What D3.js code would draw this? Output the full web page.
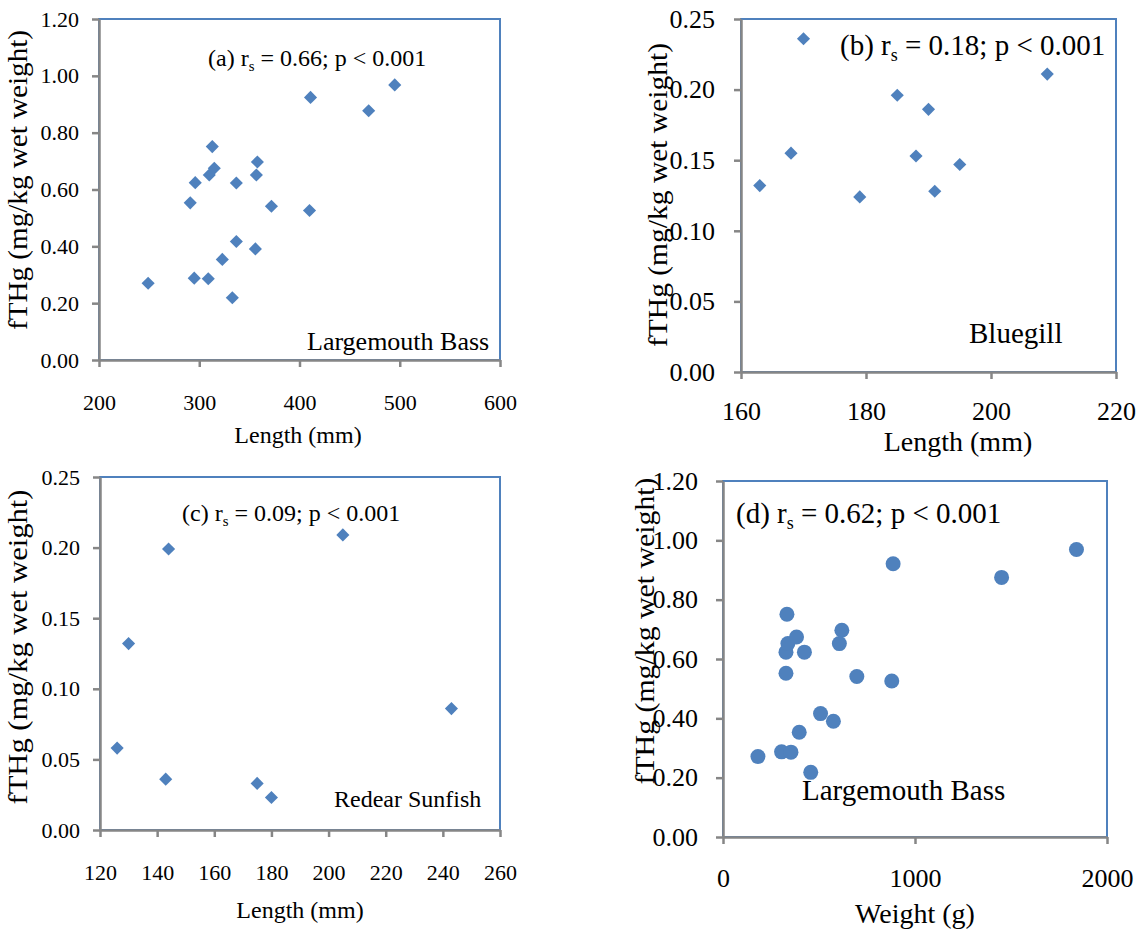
<!DOCTYPE html>
<html>
<head>
<meta charset="utf-8">
<script src="https://cdn.jsdelivr.net/npm/d3@7"></script>
<style>
  body { margin: 0; background: #fff; }
  svg { display: block; }
  text { font-family: "Liberation Serif", "Times New Roman", serif; fill: #000; }
</style>
</head>
<body>
<svg id="drawing_region"></svg>
<script>
// (a) largemouth bass, length vs fTHg
var lengthA = [249, 291, 296, 295, 309, 310, 313, 315, 323, 333, 337, 337, 356, 357, 358, 372, 410, 411, 469, 495];
var thgA = [0.27, 0.553, 0.624, 0.288, 0.286, 0.651, 0.751, 0.675, 0.354, 0.219, 0.623, 0.417, 0.391, 0.651, 0.697, 0.541, 0.526, 0.924, 0.877, 0.968];

// (b) bluegill
var lengthB = [163, 168, 170, 179, 185, 188, 190, 191, 195, 209];
var thgB = [0.132, 0.155, 0.236, 0.124, 0.196, 0.153, 0.186, 0.128, 0.147, 0.211];

// (c) redear sunfish
var lengthC = [126, 130, 143, 144, 175, 180, 205, 243];
var thgC = [0.058, 0.132, 0.036, 0.199, 0.033, 0.023, 0.209, 0.086];

// (d) largemouth bass, weight vs fTHg
var weightD = [182, 305, 354, 457, 328, 328, 338, 333, 383, 424, 397, 508, 575, 606, 619, 697, 879, 886, 1451, 1841];
var thgD = [0.271, 0.287, 0.286, 0.218, 0.552, 0.623, 0.652, 0.751, 0.674, 0.623, 0.353, 0.416, 0.39, 0.652, 0.697, 0.541, 0.526, 0.921, 0.875, 0.969];

var xTicksA = [200, 300, 400, 500, 600];
var xTicksB = [160, 180, 200, 220];
var xTicksC = [120, 140, 160, 180, 200, 220, 240, 260];
var xTicksD = [0, 1000, 2000];
var yTicksBass = [0, 0.2, 0.4, 0.6, 0.8, 1.0, 1.2];
var yTicksSun = [0, 0.05, 0.10, 0.15, 0.20, 0.25];

var BLUE = '#4f81bd';
var GREY = '#868686';

var svg = d3.select('#drawing_region')
    .attr('width', 1147)
    .attr('height', 932);

class ScatterPanel {
    constructor(config, xs, ys) {
        this.config = config;
        this.data = xs.map((x, i) => ({ x: x, y: ys[i] }));
        this.render();
    }

    render() {
        let self = this;
        let c = self.config;
        let g = svg.append('g');

        self.xscale = d3.scaleLinear()
            .domain(c.xdomain)
            .range([c.left, c.right]);
        self.yscale = d3.scaleLinear()
            .domain(c.ydomain)
            .range([c.bottom, c.top]);

        // plot area border (blue)
        g.append('rect')
            .attr('x', c.left)
            .attr('y', c.top)
            .attr('width', c.right - c.left)
            .attr('height', c.bottom - c.top)
            .attr('fill', 'none')
            .attr('stroke', BLUE)
            .attr('stroke-width', 2);

        const xaxis = d3.axisBottom(self.xscale)
            .tickValues(c.xticks)
            .tickFormat(d3.format('d'))
            .tickSize(7)
            .tickSizeOuter(0);
        const yaxis = d3.axisLeft(self.yscale)
            .tickValues(c.yticks)
            .tickFormat(d3.format('.2f'))
            .tickSize(7)
            .tickSizeOuter(0);

        let xg = g.append('g')
            .attr('transform', `translate(0, ${c.bottom})`)
            .call(xaxis);
        let yg = g.append('g')
            .attr('transform', `translate(${c.left}, 0)`)
            .call(yaxis);

        [xg, yg].forEach(ax => {
            ax.select('.domain').attr('stroke', GREY).attr('stroke-width', 2.5);
            ax.selectAll('.tick line').attr('stroke', GREY).attr('stroke-width', 2.5);
            ax.selectAll('text')
                .attr('font-family', '"Liberation Serif", "Times New Roman", serif')
                .attr('font-size', c.tickSize)
                .attr('fill', '#000');
        });
        xg.selectAll('text').attr('y', c.xlabelY).attr('dy', 0);
        yg.selectAll('text').attr('x', -c.ylabelGap);

        // markers
        if (c.marker === 'diamond') {
            const sym = d3.symbol().type(d3.symbolSquare).size(86);
            g.selectAll('path.pt')
                .data(self.data)
                .join('path')
                .attr('class', 'pt')
                .attr('d', sym)
                .attr('transform', d => `translate(${self.xscale(d.x)}, ${self.yscale(d.y)}) rotate(45)`)
                .attr('fill', BLUE);
        } else {
            g.selectAll('circle')
                .data(self.data)
                .join('circle')
                .attr('cx', d => self.xscale(d.x))
                .attr('cy', d => self.yscale(d.y))
                .attr('r', 7.5)
                .attr('fill', BLUE);
        }

        // axis titles
        g.append('text')
            .attr('x', c.xtitle.x)
            .attr('y', c.xtitle.y)
            .attr('text-anchor', 'middle')
            .attr('font-size', c.xtitle.size)
            .text(c.xtitle.text);

        g.append('text')
            .attr('transform', `translate(${c.ytitle.x}, ${c.ytitle.y}) rotate(-90)`)
            .attr('text-anchor', 'middle')
            .attr('font-size', c.ytitle.size)
            .attr('textLength', c.ytitle.length)
            .attr('lengthAdjust', 'spacingAndGlyphs')
            .text('fTHg (mg/kg wet weight)');

        // stats annotation
        let ann = g.append('text')
            .attr('x', c.stat.x)
            .attr('y', c.stat.y)
            .attr('font-size', c.stat.size);
        ann.append('tspan').text(c.stat.tag + ' r');
        ann.append('tspan')
            .attr('font-size', c.stat.size * 0.62)
            .attr('dy', c.stat.size * 0.2)
            .text('s');
        ann.append('tspan')
            .attr('dy', -c.stat.size * 0.2)
            .text(' = ' + c.stat.r + '; p < 0.001');

        g.append('text')
            .attr('x', c.species.x)
            .attr('y', c.species.y)
            .attr('font-size', c.species.size)
            .text(c.species.text);
    }
}

new ScatterPanel({
    left: 99, right: 500, top: 19, bottom: 360,
    xdomain: [200, 600], ydomain: [0, 1.2],
    xticks: xTicksA, yticks: yTicksBass,
    tickSize: 22, ylabelGap: 20, xlabelY: 50, marker: 'diamond',
    xtitle: { text: 'Length (mm)', x: 298, y: 443, size: 24 },
    ytitle: { x: 27, y: 180, size: 27, length: 300 },
    stat: { tag: '(a)', r: '0.66', x: 208, y: 66, size: 24 },
    species: { text: 'Largemouth Bass', x: 307, y: 350, size: 26 }
}, lengthA, thgA);

new ScatterPanel({
    left: 741, right: 1116, top: 19, bottom: 372,
    xdomain: [160, 220], ydomain: [0, 0.25],
    xticks: xTicksB, yticks: yTicksSun,
    tickSize: 26, ylabelGap: 26, xlabelY: 48, marker: 'diamond',
    xtitle: { text: 'Length (mm)', x: 958, y: 451, size: 28 },
    ytitle: { x: 667, y: 195, size: 28, length: 304 },
    stat: { tag: '(b)', r: '0.18', x: 840, y: 55, size: 29 },
    species: { text: 'Bluegill', x: 969, y: 343, size: 29 }
}, lengthB, thgB);

new ScatterPanel({
    left: 100, right: 500, top: 477, bottom: 830,
    xdomain: [120, 260], ydomain: [0, 0.25],
    xticks: xTicksC, yticks: yTicksSun,
    tickSize: 22, ylabelGap: 20, xlabelY: 50, marker: 'diamond',
    xtitle: { text: 'Length (mm)', x: 300, y: 918, size: 24 },
    ytitle: { x: 27, y: 647, size: 27, length: 315 },
    stat: { tag: '(c)', r: '0.09', x: 182, y: 521, size: 24 },
    species: { text: 'Redear Sunfish', x: 334, y: 807, size: 24 }
}, lengthC, thgC);

new ScatterPanel({
    left: 723, right: 1107, top: 481, bottom: 837,
    xdomain: [0, 2000], ydomain: [0, 1.2],
    xticks: xTicksD, yticks: yTicksBass,
    tickSize: 26, ylabelGap: 25, xlabelY: 50, marker: 'circle',
    xtitle: { text: 'Weight (g)', x: 915, y: 923, size: 28 },
    ytitle: { x: 654, y: 631, size: 28, length: 307 },
    stat: { tag: '(d)', r: '0.62', x: 736, y: 523, size: 29 },
    species: { text: 'Largemouth Bass', x: 802, y: 800, size: 29 }
}, weightD, thgD);
</script>
</body>
</html>
